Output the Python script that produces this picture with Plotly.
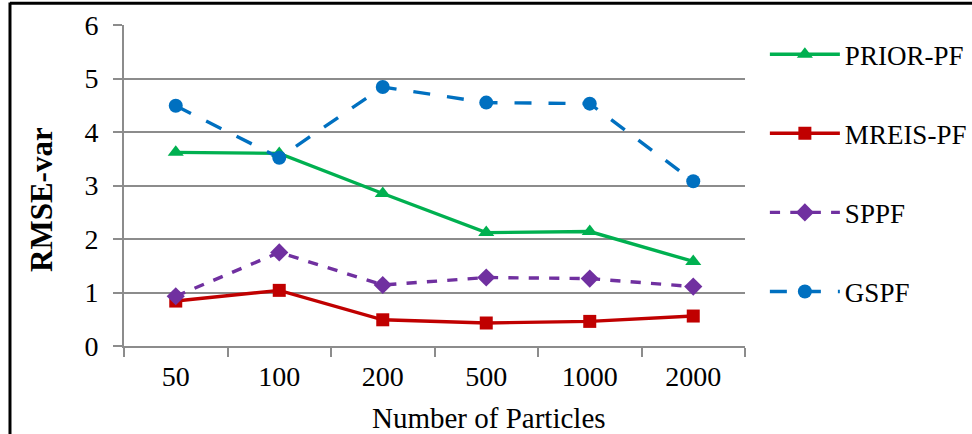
import plotly.graph_objects as go

# Particle counts and RMSE of the variance estimate for each filter
particles = ["50", "100", "200", "500", "1000", "2000"]
prior_pf = [3.62, 3.60, 2.85, 2.12, 2.14, 1.58]
mreis_pf = [0.84, 1.04, 0.49, 0.43, 0.46, 0.56]
sppf = [0.93, 1.75, 1.14, 1.28, 1.26, 1.11]
gspf = [4.49, 3.52, 4.84, 4.55, 4.53, 3.08]

FONT = "Liberation Serif"
GRID = "#8c8c8c"

series = [
    ("PRIOR-PF", prior_pf, "#00b050", "solid", "triangle-up", 14),
    ("MREIS-PF", mreis_pf, "#c00000", "solid", "square", 13),
    ("SPPF", sppf, "#7030a0", "dash", "diamond", 14),
    ("GSPF", gspf, "#0070c0", "longdash", "circle", 14),
]

fig = go.Figure()
for i, (name, vals, color, dash, symbol, size) in enumerate(series):
    fig.add_trace(go.Scatter(
        x=particles, y=vals, name=name, mode="lines+markers",
        legendgroup=f"g{i}",
        line=dict(color=color, width=3.4, dash=dash),
        marker=dict(symbol=symbol, size=size, color=color),
    ))

fig.update_layout(
    width=972, height=434,
    margin=dict(l=124, r=227, t=25, b=88, autoexpand=False),
    paper_bgcolor="white", plot_bgcolor="white",
    font=dict(family=FONT, color="black", size=26),
    showlegend=True,
    legend=dict(
        x=1.032, xanchor="left", y=0.984, yanchor="top",
        font=dict(family=FONT, size=27, color="black"),
        tracegroupgap=41, itemwidth=70, bgcolor="rgba(0,0,0,0)",
    ),
    xaxis=dict(
        type="category", range=[-0.5, 5.5],
        showline=True, linecolor=GRID, linewidth=2,
        ticks="outside", tickson="boundaries", ticklen=9,
        tickcolor=GRID, tickwidth=2,
        ticklabelstandoff=4,
        showgrid=False,
        tickfont=dict(family=FONT, size=28),
    ),
    yaxis=dict(
        range=[0, 6], dtick=1, tick0=0,
        showline=True, linecolor=GRID, linewidth=2,
        ticks="outside", ticklen=9, tickcolor=GRID, tickwidth=2,
        ticklabelstandoff=9,
        showgrid=True, gridcolor=GRID, gridwidth=2,
        zeroline=False,
        tickfont=dict(family=FONT, size=28),
    ),
)

# Axis titles, placed as in the chart-area layout
fig.add_annotation(text="Number of Particles", xref="paper", yref="paper",
                   x=0.588, y=-0.224, xanchor="center", yanchor="middle",
                   showarrow=False, font=dict(family=FONT, size=29))
fig.add_annotation(text="<b>RMSE-var</b>", xref="paper", yref="paper",
                   x=-0.132, y=0.455, xanchor="center", yanchor="middle",
                   textangle=-90, showarrow=False,
                   font=dict(family=FONT, size=31))

# Outer frame: left and top edges
fig.add_shape(type="line", xref="paper", yref="paper",
              x0=-0.1836, x1=-0.1836, y0=1.07, y1=-0.3,
              line=dict(color="black", width=3))
fig.add_shape(type="line", xref="paper", yref="paper",
              x0=-0.1836, x1=1.5, y0=1.068, y1=1.068,
              line=dict(color="black", width=3))

fig.write_html("out.html")
